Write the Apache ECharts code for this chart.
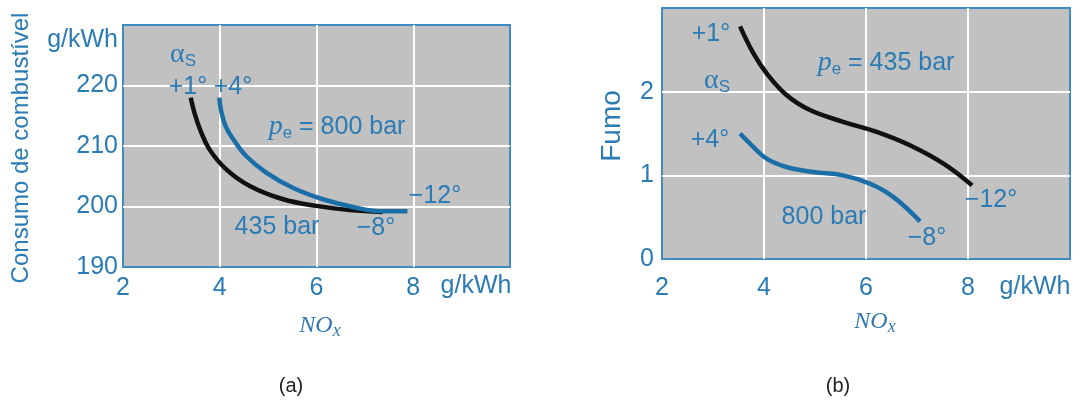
<!DOCTYPE html>
<html>
<head>
<meta charset="utf-8">
<script src="https://cdn.jsdelivr.net/npm/echarts@6/dist/echarts.min.js"></script>
<style>
  html, body { margin: 0; padding: 0; background: #fff; }
  #chart { width: 1092px; height: 407px; }
</style>
</head>
<body>
<div id="chart"></div>
<script>
// (a) Fuel consumption vs NOx, start of injection swept from advanced to retarded
const fuelNox435 = [3.40, 3.48, 3.60, 3.79, 4.14, 4.62, 5.31, 6.00, 6.68, 7.37];
const fuel435    = [218.0, 215.4, 212.6, 209.4, 206.1, 203.4, 201.2, 200.1, 199.4, 199.1];
const fuelNox800 = [3.99, 4.03, 4.12, 4.28, 4.55, 4.96, 5.51, 6.13, 6.82, 7.37, 7.88];
const fuel800    = [218.0, 215.8, 213.3, 211.1, 208.3, 205.6, 203.1, 201.2, 199.8, 199.2, 199.2];

// (b) Smoke vs NOx
const smokeNox435 = [3.53, 3.79, 4.05, 4.44, 4.90, 5.55, 6.21, 6.86, 7.52, 8.08];
const smoke435    = [2.78, 2.46, 2.22, 1.96, 1.78, 1.64, 1.52, 1.36, 1.14, 0.88];
const smokeNox800 = [3.53, 3.79, 4.05, 4.44, 4.97, 5.55, 6.08, 6.54, 7.06];
const smoke800    = [1.50, 1.34, 1.20, 1.10, 1.04, 1.00, 0.90, 0.74, 0.45];

// Axis ticks
const noxTicks   = [2, 4, 6, 8];
const fuelTicks  = [190, 200, 210, 220];
const smokeTicks = [0, 1, 2];

const pairs = (xs, ys) => xs.map((x, i) => [x, ys[i]]);

const BLUE_TXT = '#2b7bb4';
const BLUE_LINE = '#1b6fa8';
const BORDER = '#3f8cc2';
const PLOT_BG = '#c1c1c1';
const SANS = '"Liberation Sans", Arial, sans-serif';
const SERIF = '"Liberation Serif", "DejaVu Serif", serif';

function xAxisFor(gridIndex, margin) {
  return {
    type: 'value', gridIndex, min: 2, max: 10, interval: 2,
    axisLine: { show: false }, axisTick: { show: false },
    splitLine: { show: true, showMinLine: false, showMaxLine: false,
      lineStyle: { color: '#ffffff', width: 2 } },
    axisLabel: {
      color: BLUE_TXT, fontFamily: SANS, fontSize: 25, margin,
      formatter: v => noxTicks.includes(v) ? String(v) : ''
    }
  };
}

function yAxisFor(gridIndex, min, max, interval, ticks, margin) {
  return {
    type: 'value', gridIndex, min, max, interval,
    axisLine: { show: false }, axisTick: { show: false },
    splitLine: { show: true, showMinLine: false, showMaxLine: false,
      lineStyle: { color: '#ffffff', width: 2 } },
    axisLabel: {
      color: BLUE_TXT, fontFamily: SANS, fontSize: 25, margin,
      formatter: v => ticks.includes(v) ? String(v) : ''
    }
  };
}

function curve(name, xi, yi, data, color) {
  return {
    name, type: 'line', xAxisIndex: xi, yAxisIndex: yi, data,
    smooth: 0.4, showSymbol: false, symbol: 'none',
    lineStyle: { color, width: 4.5, cap: 'butt' }, z: 3
  };
}

function txt(x, y, text, extra, rotation) {
  return {
    type: 'text', x, y, z: 10, rotation: rotation || 0,
    style: Object.assign({
      text, fill: BLUE_TXT, font: '25px ' + SANS,
      textAlign: 'center', textVerticalAlign: 'middle'
    }, extra || {})
  };
}

const NOX_BLUE = '#3579b1';
const subRich = {
  a: { fontFamily: SERIF, fontSize: 28, fill: BLUE_TXT },
  s: { fontFamily: SANS, fontSize: 17, fill: BLUE_TXT, padding: [12, 0, 0, 0] },
  p: { fontFamily: SERIF, fontStyle: 'italic', fontSize: 28, fill: BLUE_TXT },
  e: { fontFamily: SANS, fontSize: 17, fill: BLUE_TXT, padding: [12, 0, 0, 0] },
  t: { fontFamily: SANS, fontSize: 25, fill: BLUE_TXT },
  n: { fontFamily: SERIF, fontStyle: 'italic', fontSize: 24, fill: NOX_BLUE },
  x: { fontFamily: SERIF, fontStyle: 'italic', fontSize: 18, fill: NOX_BLUE, padding: [10, 0, 0, 0] }
};

function richTxt(x, y, text) {
  return {
    type: 'text', x, y, z: 10,
    style: { text, rich: subRich, textAlign: 'center', textVerticalAlign: 'middle' }
  };
}

const chart = echarts.init(document.getElementById('chart'), null, { renderer: 'canvas' });

chart.setOption({
  animation: false,
  backgroundColor: '#ffffff',
  grid: [
    { left: 123, top: 25, width: 387, height: 242, show: true,
      backgroundColor: PLOT_BG, borderColor: BORDER, borderWidth: 2 },
    { left: 662, top: 8, width: 408, height: 251, show: true,
      backgroundColor: PLOT_BG, borderColor: BORDER, borderWidth: 2 }
  ],
  xAxis: [xAxisFor(0, 9), xAxisFor(1, 17)],
  yAxis: [
    yAxisFor(0, 190, 230, 10, fuelTicks, 5),
    yAxisFor(1, 0, 3, 1, smokeTicks, 8)
  ],
  series: [
    curve('435 bar', 0, 0, pairs(fuelNox435, fuel435), '#111111'),
    curve('800 bar', 0, 0, pairs(fuelNox800, fuel800), BLUE_LINE),
    curve('435 bar', 1, 1, pairs(smokeNox435, smoke435), '#111111'),
    curve('800 bar', 1, 1, pairs(smokeNox800, smoke800), BLUE_LINE)
  ],
  graphic: [
    // axis titles and units, panel (a)
    txt(21, 148, 'Consumo de combustível', { font: '24px ' + SANS }, Math.PI / 2),
    txt(118, 40, 'g/kWh', { textAlign: 'right' }),
    txt(476, 286, 'g/kWh'),
    richTxt(320, 326, '{n|NO}{x|x}'),
    txt(291, 386, '(a)', { fill: '#222222', font: '20px ' + SANS }),
    // annotations, panel (a)
    richTxt(183, 55, '{a|α}{s|S}'),
    txt(188, 87, '+1°'),
    txt(233, 87, '+4°'),
    richTxt(337, 127, '{p|p}{e|e}{t| = 800 bar}'),
    txt(435, 196, '−12°'),
    txt(277, 227, '435 bar'),
    txt(376, 228, '−8°'),

    // axis titles and units, panel (b)
    txt(612, 126, 'Fumo', { font: '28px ' + SANS }, Math.PI / 2),
    txt(1035, 287, 'g/kWh'),
    richTxt(875, 322, '{n|NO}{x|x}'),
    txt(838, 386, '(b)', { fill: '#222222', font: '20px ' + SANS }),
    // annotations, panel (b)
    txt(711, 34, '+1°'),
    richTxt(717, 81, '{a|α}{s|S}'),
    richTxt(886, 63, '{p|p}{e|e}{t| = 435 bar}'),
    txt(710, 140, '+4°'),
    txt(991, 200, '−12°'),
    txt(824, 217, '800 bar'),
    txt(927, 238, '−8°')
  ]
});
</script>
</body>
</html>
